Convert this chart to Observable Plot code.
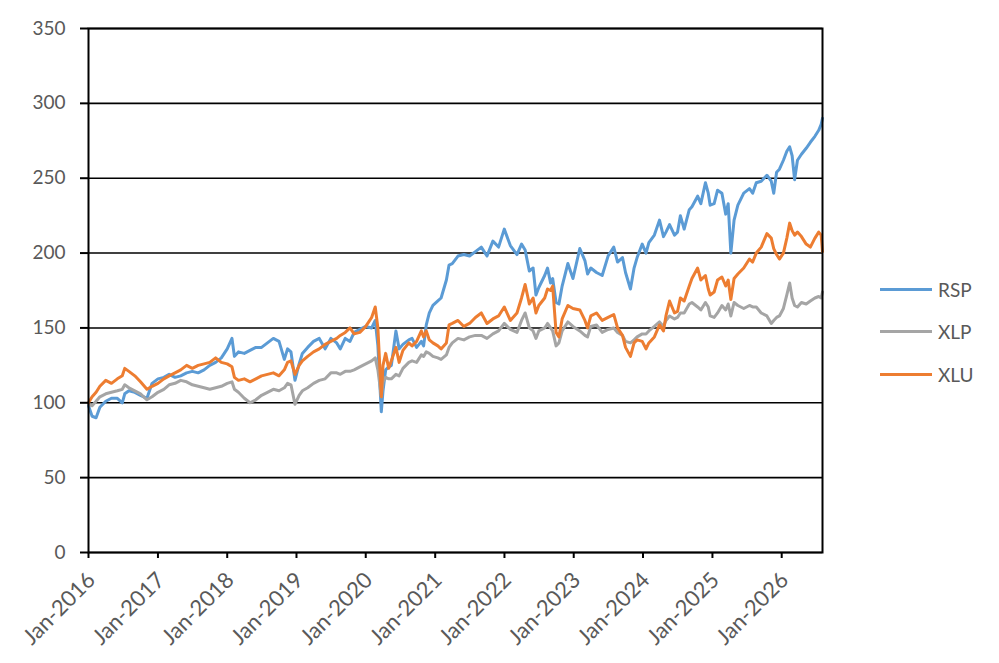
<!DOCTYPE html>
<html><head><meta charset="utf-8">
<script src="https://cdn.jsdelivr.net/npm/d3@7"></script>
<script src="https://cdn.jsdelivr.net/npm/@observablehq/plot@0.6"></script>
<style>
body{margin:0;background:#fff;font-family:Lato,"Open Sans",sans-serif;}
#wrap{position:relative;width:999px;height:663px;overflow:hidden;}
.item{position:absolute;left:880px;height:24px;display:flex;align-items:center;}
.sw{width:52px;height:3px;margin-right:6px;}
.lab{font-size:19px;color:#595959;font-family:Lato,sans-serif;}
</style></head><body><div id="wrap"></div>
<script>
const dates = [
 "2016-01-01","2016-01-20","2016-02-10","2016-03-01","2016-04-01","2016-05-01","2016-06-01","2016-06-27","2016-07-10","2016-08-01","2016-09-01","2016-10-01","2016-11-04","2016-12-01",
 "2017-01-01","2017-02-01","2017-03-01","2017-04-01","2017-05-01","2017-06-01","2017-07-01","2017-08-01","2017-09-01","2017-10-01","2017-11-01","2017-12-01",
 "2018-01-01","2018-01-26","2018-02-08","2018-03-01","2018-04-01","2018-05-01","2018-06-01","2018-07-01","2018-08-01","2018-09-01","2018-10-01","2018-10-29","2018-11-15","2018-12-03","2018-12-24",
 "2019-01-15","2019-02-01","2019-03-01","2019-04-01","2019-05-01","2019-06-01","2019-07-01","2019-08-01","2019-08-20","2019-09-15","2019-10-10","2019-11-01","2019-12-01",
 "2020-01-01","2020-02-01","2020-02-20","2020-03-05","2020-03-23","2020-04-01","2020-04-15","2020-05-01","2020-05-15","2020-06-08","2020-06-25","2020-07-15","2020-08-15","2020-09-01","2020-09-25","2020-10-20","2020-11-01","2020-11-15","2020-12-01","2020-12-20",
 "2021-01-15","2021-02-01","2021-03-01","2021-03-15","2021-04-01","2021-05-01","2021-06-01","2021-07-01","2021-08-01","2021-09-01","2021-10-01","2021-11-01","2021-12-01","2021-12-31",
 "2022-02-01","2022-03-08","2022-04-01","2022-04-20","2022-05-12","2022-06-01","2022-06-16","2022-07-01","2022-08-01","2022-08-16","2022-09-01","2022-09-12","2022-09-30","2022-10-15","2022-11-01","2022-12-01","2022-12-28",
 "2023-02-02","2023-03-01","2023-03-15","2023-04-01","2023-05-01","2023-05-31","2023-07-01","2023-07-31","2023-08-20","2023-09-15","2023-10-01","2023-10-27","2023-11-15","2023-12-01","2023-12-28",
 "2024-01-17","2024-02-01","2024-03-01","2024-03-28","2024-04-18","2024-05-01","2024-05-20","2024-06-15","2024-07-01","2024-07-16","2024-08-05","2024-09-01","2024-09-15","2024-10-15","2024-11-01","2024-11-25","2024-12-10","2024-12-20",
 "2025-01-10","2025-01-28","2025-02-20","2025-03-12","2025-03-25","2025-04-08","2025-04-25","2025-05-15","2025-06-15","2025-07-15","2025-08-01","2025-08-20","2025-09-15","2025-10-15","2025-11-07","2025-11-20","2025-12-05","2025-12-20",
 "2026-01-10","2026-01-28","2026-02-12","2026-02-25","2026-03-10","2026-03-25","2026-04-15","2026-05-10","2026-06-01","2026-06-25","2026-07-15","2026-07-28","2026-08-04"
];
const rsp = [
 98,91,90,97,101,103,103,100,106,108,107,105,103,113,
 116,117,119,117,118,120,121,120,122,125,127,130,
 136,143,131,134,133,135,137,137,140,143,141,129,136,134,115,
 126,133,137,141,143,136,143,140,136,143,141,147,149,
 151,150,155,138,94,108,122,124,125,148,136,139,142,143,137,141,138,152,160,165,
 168,170,182,192,193,198,199,198,201,204,198,208,204,216,
 205,199,206,202,188,190,172,177,185,190,180,183,167,166,178,193,183,
 203,195,186,190,187,185,198,204,194,197,187,176,190,197,206,
 200,207,212,222,211,214,219,212,214,225,216,229,231,238,233,247,240,232,
 233,242,240,226,233,200,222,232,240,243,240,247,248,252,248,240,254,256,
 262,268,271,265,249,262,266,270,274,278,282,286,290
];
const xlp = [
 99,98,101,104,106,107,108,109,112,110,108,106,102,104,
 107,109,112,113,115,114,112,111,110,109,110,111,
 113,114,109,107,103,100,102,105,107,109,108,110,113,112,99,
 105,108,110,113,115,116,120,120,119,121,121,122,124,
 126,128,130,122,104,114,117,116,116,119,118,123,127,128,127,132,131,134,133,131,
 130,129,132,137,140,143,142,144,145,145,143,146,148,153,
 149,147,155,160,150,148,143,148,150,153,150,148,138,140,148,154,151,
 148,145,144,151,152,147,149,150,147,145,141,140,142,144,146,
 146,148,151,154,151,155,158,156,157,160,160,166,167,164,162,167,164,158,
 157,160,165,162,166,158,167,165,163,165,164,164,160,158,153,155,157,158,
 163,172,180,170,165,164,167,166,168,170,171,170,174
];
const xlu = [
 100,104,107,111,115,113,116,118,123,121,118,114,109,111,
 113,116,118,120,122,125,123,125,126,127,130,127,
 126,124,117,115,116,114,116,118,119,120,118,122,127,128,119,
 125,128,131,134,136,139,141,143,145,147,150,146,147,
 151,157,164,150,104,125,133,123,128,137,127,135,140,138,141,148,144,148,142,140,
 138,136,140,152,153,155,151,153,157,160,153,156,158,164,
 155,160,170,179,166,170,160,165,170,176,175,178,147,144,156,165,163,
 162,155,150,158,160,155,157,159,150,145,137,131,140,142,141,
 136,140,144,152,148,158,168,160,161,170,168,178,183,190,182,185,176,172,
 174,182,184,178,182,169,183,186,190,196,194,200,204,213,210,203,199,196,
 200,210,220,215,212,214,211,206,204,210,214,212,201
];
const seriesNames = ["RSP","XLP","XLU"];
const seriesColors = ["#5B9BD5","#A5A5A5","#ED7D31"];
const yTicks = [0,50,100,150,200,250,300,350];
const xTickDates = ["2016-01-01","2017-01-01","2018-01-01","2019-01-01","2020-01-01","2021-01-01","2022-01-01","2023-01-01","2024-01-01","2025-01-01","2026-01-01"];
const xDomain = ["2016-01-01","2026-08-04"];

const valuesByName = {RSP: rsp, XLP: xlp, XLU: xlu};
const rows = seriesNames.flatMap(name => dates.map((d, i) => ({date: new Date(d), value: valuesByName[name][i], name})));
const xTicks = xTickDates.map(d => new Date(d));

const chart = Plot.plot({
  width: 999, height: 663,
  marginLeft: 88, marginRight: 177, marginTop: 28, marginBottom: 111,
  style: {fontFamily: "Lato, sans-serif", fontSize: "19px", background: "white", color: "black"},
  x: {type: "utc", domain: xDomain.map(d => new Date(d))},
  y: {domain: [0, 350]},
  color: {domain: seriesNames, range: seriesColors},
  marks: [
    Plot.gridY(yTicks, {stroke: "black", strokeOpacity: 1, strokeWidth: 1.6}),
    Plot.lineY(rows, {x: "date", y: "value", z: "name", stroke: "name", strokeWidth: 3, strokeLinejoin: "round"}),
    Plot.frame({stroke: "black", strokeWidth: 2}),
    Plot.axisY(yTicks, {tickSize: 8, tickPadding: 15, stroke: "black", fill: "#595959", strokeWidth: 2, label: null}),
    Plot.axisX(xTicks, {tickSize: 6, tickFormat: () => "", stroke: "black", strokeWidth: 2, label: null}),
    Plot.axisX(xTicks, {tickSize: 0, tickPadding: 24, dx: 3, tickRotate: -45, fontSize: 22, tickFormat: d3.utcFormat("Jan-%Y"), fill: "#595959", label: null})
  ]
});
const wrap = document.getElementById("wrap");
wrap.appendChild(chart);
const legendCenters = [289, 331, 374];
seriesNames.forEach((name, i) => {
  const item = document.createElement("div");
  item.className = "item";
  item.style.top = (legendCenters[i] - 12) + "px";
  item.innerHTML = `<div class="sw" style="background:${seriesColors[i]}"></div><span class="lab">${name}</span>`;
  wrap.appendChild(item);
});
</script>
</body></html>
